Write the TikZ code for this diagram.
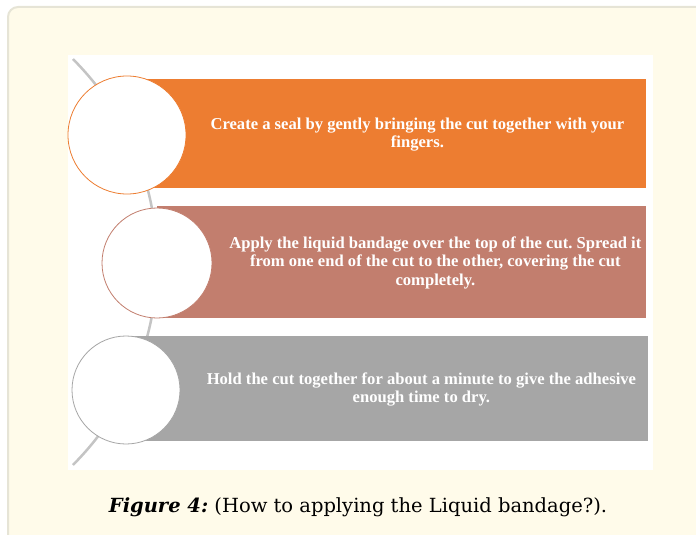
\documentclass[tikz,border=0pt]{standalone}
\usepackage{fontspec}
\setmainfont{Liberation Serif}
\newfontfamily\capfont{DejaVu Serif}
\usetikzlibrary{positioning,calc}
\definecolor{PanelCream}{HTML}{FFFBEA}
\definecolor{PanelEdge}{HTML}{E6E4D6}
\definecolor{StepOrange}{HTML}{ED7D31}
\definecolor{StepBrown}{HTML}{C27E6E}
\definecolor{StepGrey}{HTML}{A6A6A6}
\definecolor{ArcGrey}{HTML}{C4C4C4}
\frenchspacing

\begin{document}
\begin{tikzpicture}[
      x=1pt,y=-1pt,
      stepbox/.style={rectangle,inner sep=0pt,anchor=north west},
      stepdisc/.style={circle,draw,fill=white,line width=0.8pt,inner sep=0pt},
      steptext/.style={text=white,align=center,font=\fontsize{16.6}{18.5}\selectfont\bfseries},
      track/.style={ArcGrey,line width=2.5pt}
    ]
      \useasboundingbox (0,0) rectangle (696,535);
      % page panel and figure area
      \draw[PanelEdge,line width=2pt,fill=PanelCream,rounded corners=10pt] (8,7) rectangle (720,560);
      \fill[white] (68,55) rectangle (653,470);

      % curved track behind the discs
      \draw[track] (-130,262) ++(-45:287) arc[start angle=-45,end angle=45,radius=287];

      \node[stepbox,fill=StepOrange,minimum width=501pt,minimum height=109pt] (box1) at (145,79) {};
      \node[stepbox,fill=StepBrown,minimum width=489pt,minimum height=112pt] (box2) at (157,206) {};
      \node[stepbox,fill=StepGrey,minimum width=520pt,minimum height=105pt] (box3) at (128,336) {};

      \node[stepdisc,draw=StepOrange,minimum size=118pt] (disc1) at (127,135) {};
      \node[stepdisc,draw=StepBrown,minimum size=110pt] (disc2) at (157,263) {};
      \node[stepdisc,draw=StepGrey,minimum size=108pt] (disc3) at (126,390) {};

      \node[steptext] (text1) at ($(disc1.east)!0.5!(box1.east)+(1,0)$) {Create a seal by gently bringing the cut together with your\\fingers.};
      \node[steptext] (text2) at ($(disc2.east)!0.5!(box2.east)+(6,0)$) {Apply the liquid bandage over the top of the cut. Spread it\\from one end of the cut to the other, covering the cut\\completely.};
      \node[steptext] (text3) at ($(disc3.east)!0.5!(box3.east)+(7,0)$) {Hold the cut together for about a minute to give the adhesive\\enough time to dry.};

      \node[font=\capfont\fontsize{19.5}{23}\selectfont] (caption) at (358,507) {\textbf{\textit{Figure 4:}} (How to applying the Liquid bandage?).};
    \end{tikzpicture}
\end{document}
